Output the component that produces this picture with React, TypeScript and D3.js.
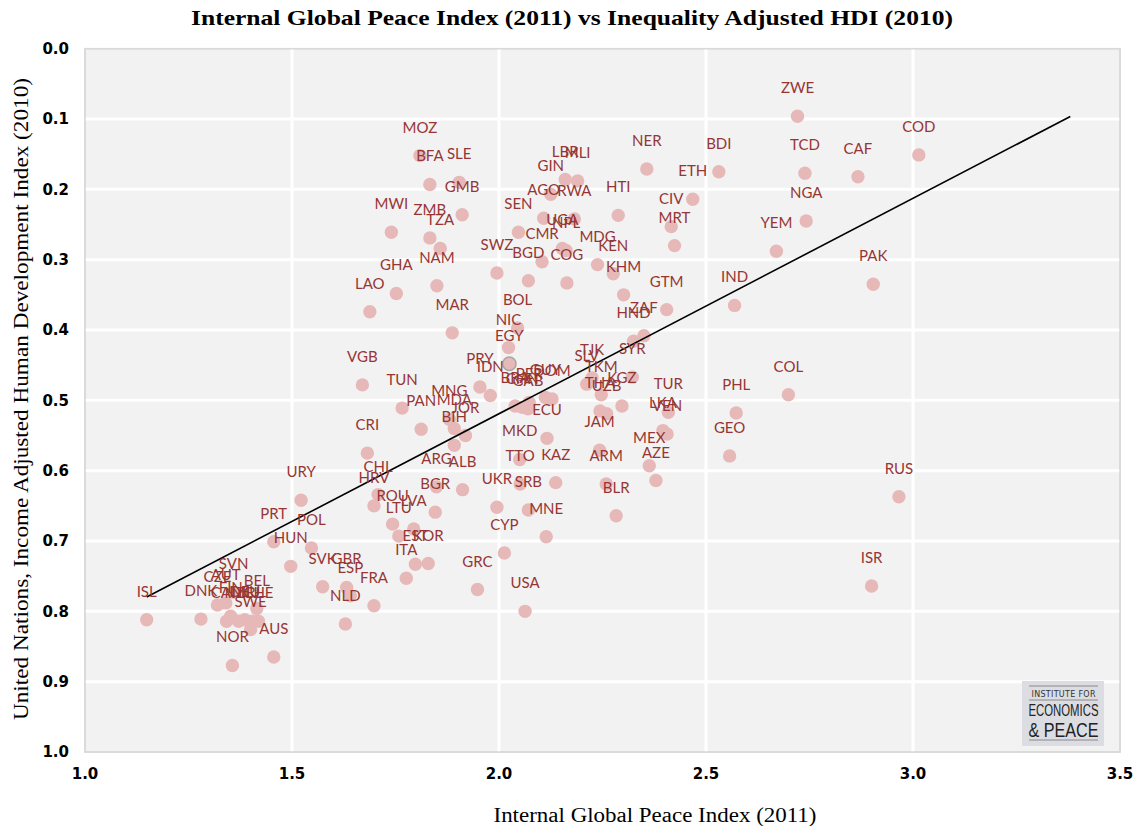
import React from "react";
import * as d3 from "d3";

const countries = ["ISL","DNK","CZE","AUT","SVN","FIN","CAN","NZL","DEU","IRL","CHE","BEL","SWE","NOR","AUS","HUN","PRT","POL","URY","SVK","GBR","ESP","NLD","FRA","ITA","EST","KOR","LTU","LVA","ROU","HRV","CHL","CRI","BGR","ARG","ALB","BIH","JOR","MDA","PAN","MNG","TUN","VGB","LAO","GHA","MWI","MOZ","BFA","SLE","GMB","ZMB","TZA","NAM","MAR","SWZ","SEN","AGO","GIN","LBR","MLI","RWA","UGA","NPL","CMR","BGD","COG","MDG","KEN","KHM","HTI","NER","BDI","ETH","CIV","MRT","GTM","ZAF","HND","ZWE","COD","TCD","CAF","NGA","YEM","IND","PAK","COL","PHL","GEO","RUS","ISR","TUR","LKA","VEN","MEX","AZE","ARM","BLR","JAM","THA","UZB","TKM","KGZ","SYR","TJK","SLV","KAZ","MKD","TTO","UKR","SRB","MNE","CYP","USA","GRC","ECU","PRY","IDN","EGY","NIC","BOL","PER","GUY","DOM","BRA","CHN","GAB"];

const gpiValues = [1.149,1.280,1.320,1.340,1.359,1.352,1.342,1.371,1.386,1.405,1.419,1.415,1.400,1.356,1.456,1.497,1.456,1.547,1.522,1.574,1.632,1.641,1.629,1.698,1.776,1.798,1.829,1.758,1.794,1.743,1.698,1.708,1.682,1.846,1.849,1.912,1.892,1.919,1.892,1.812,1.880,1.766,1.670,1.688,1.752,1.740,1.809,1.833,1.904,1.911,1.833,1.858,1.850,1.887,1.995,2.047,2.108,2.125,2.160,2.190,2.182,2.153,2.162,2.104,2.071,2.164,2.238,2.276,2.301,2.288,2.357,2.531,2.468,2.416,2.424,2.405,2.350,2.325,2.721,3.014,2.739,2.867,2.742,2.670,2.569,2.904,2.699,2.573,2.557,2.966,2.900,2.409,2.396,2.406,2.363,2.379,2.259,2.283,2.243,2.244,2.260,2.247,2.297,2.322,2.225,2.212,2.137,2.050,2.051,1.995,2.071,2.114,2.013,2.063,1.948,2.116,1.954,1.979,2.025,2.023,2.045,2.073,2.112,2.128,2.039,2.056,2.070];

const ihdiValues = [0.812,0.811,0.791,0.788,0.773,0.807,0.814,0.814,0.812,0.814,0.814,0.796,0.826,0.877,0.865,0.736,0.701,0.710,0.642,0.765,0.766,0.778,0.818,0.792,0.753,0.733,0.732,0.693,0.683,0.676,0.650,0.634,0.575,0.659,0.623,0.627,0.564,0.550,0.540,0.541,0.527,0.511,0.478,0.374,0.348,0.261,0.152,0.193,0.190,0.236,0.269,0.284,0.337,0.404,0.319,0.261,0.241,0.207,0.186,0.188,0.242,0.284,0.287,0.303,0.330,0.333,0.307,0.320,0.350,0.237,0.171,0.175,0.214,0.253,0.280,0.371,0.408,0.416,0.096,0.151,0.177,0.182,0.245,0.288,0.365,0.335,0.492,0.518,0.579,0.637,0.764,0.517,0.543,0.548,0.593,0.614,0.619,0.664,0.571,0.515,0.519,0.492,0.508,0.467,0.468,0.477,0.617,0.584,0.619,0.652,0.656,0.694,0.717,0.800,0.769,0.554,0.481,0.493,0.448,0.425,0.397,0.503,0.496,0.498,0.508,0.510,0.512];

const highlighted = ["EGY"];

const xTicks = [1.0, 1.5, 2.0, 2.5, 3.0, 3.5];
const yTicks = [0.0, 0.1, 0.2, 0.3, 0.4, 0.5, 0.6, 0.7, 0.8, 0.9, 1.0];

const trendX = [1.149, 3.380];
const trendY = [0.7796, 0.0964];

const titleText = "Internal Global Peace Index (2011) vs Inequality Adjusted HDI (2010)";
const xTitle = "Internal Global Peace Index (2011)";
const yTitle = "United Nations, Income Adjusted Human Development Index (2010)";

export default function App() {
  const W = 1139, H = 826;
  const left = 85, right = 1120, top = 48.7, bottom = 752;
  const x = d3.scaleLinear().domain([1, 3.5]).range([left, right]);
  const y = d3.scaleLinear().domain([0, 1]).range([top, bottom]);
  const data = countries.map((c, i) => ({ c, gx: gpiValues[i], hy: ihdiValues[i] }));
  const line = d3.line<number>().x((_, i) => x(trendX[i])).y((_, i) => y(trendY[i]));
  const serif = "'Liberation Serif', 'Times New Roman', serif";
  const tickFont = "'DejaVu Sans', Verdana, sans-serif";
  const labelFont = "Lato, 'Open Sans', sans-serif";

  return (
    <div style={{ position: "absolute", left: 0, top: 0 }}>
      <svg width={W} height={H} style={{ display: "block", background: "#fff" }}>
        <text x={572} y={25} textAnchor="middle" fontFamily={serif} fontWeight="bold" fontSize={21}
          textLength={762} lengthAdjust="spacingAndGlyphs" fill="#000">{titleText}</text>

        <rect x={left} y={top} width={right - left} height={bottom - top} fill="#f2f2f2" stroke="#d9d9d9" strokeWidth={1.5} />
        {xTicks.slice(1, -1).map((t) => (
          <line key={"gx" + t} x1={x(t)} x2={x(t)} y1={top} y2={bottom} stroke="#fff" strokeWidth={3} />
        ))}
        {yTicks.slice(1, -1).map((t) => (
          <line key={"gy" + t} x1={left} x2={right} y1={y(t)} y2={y(t)} stroke="#fff" strokeWidth={3} />
        ))}
        <rect x={left} y={top} width={right - left} height={bottom - top} fill="none" stroke="#d9d9d9" strokeWidth={1.5} />

        {yTicks.map((t) => (
          <text key={"ty" + t} x={69} y={y(t)} dy="0.36em" textAnchor="end" fontFamily={tickFont}
            fontWeight="bold" fontSize={15} fill="#000">{d3.format(".1f")(t)}</text>
        ))}
        {xTicks.map((t) => (
          <text key={"tx" + t} x={x(t)} y={779} textAnchor="middle" fontFamily={tickFont}
            fontWeight="bold" fontSize={15} fill="#000">{d3.format(".1f")(t)}</text>
        ))}

        <text x={655} y={822} textAnchor="middle" fontFamily={serif} fontSize={20}
          textLength={323} lengthAdjust="spacingAndGlyphs" fill="#000">{xTitle}</text>
        <text transform={`translate(28,399) rotate(-90)`} textAnchor="middle" fontFamily={serif} fontSize={20}
          textLength={642} lengthAdjust="spacingAndGlyphs" fill="#000">{yTitle}</text>

        {data.map((d) => (
          <circle key={"p" + d.c} cx={x(d.gx)} cy={y(d.hy)} r={6.7}
            fill="#e6b9b8"
            stroke={highlighted.includes(d.c) ? "#a6a6a6" : "none"}
            strokeWidth={highlighted.includes(d.c) ? 1.5 : 0} />
        ))}

        <path d={line([0, 1]) || ""} fill="none" stroke="#000" strokeWidth={1.6} />

        {data.map((d) => (
          <text key={"l" + d.c} x={x(d.gx)} y={y(d.hy) - 23} textAnchor="middle" fontFamily={labelFont}
            fontSize={15} fill="#963634">{d.c}</text>
        ))}

        <g>
          <rect x={1022} y={681} width={82} height={65} fill="#dcdde2" />
          <line x1={1029} x2={1098} y1={686} y2={686} stroke="#777" strokeWidth={0.8} />
          <text x={1063.5} y={697} textAnchor="middle" fontFamily="'DejaVu Sans', sans-serif" fontSize={8}
            textLength={64} lengthAdjust="spacing" fill="#333">INSTITUTE FOR</text>
          <line x1={1029} x2={1098} y1={700} y2={700} stroke="#777" strokeWidth={0.8} />
          <text x={1063.5} y={716} textAnchor="middle" fontFamily="'Liberation Sans Narrow', 'Liberation Sans', sans-serif"
            fontSize={16} textLength={70} lengthAdjust="spacingAndGlyphs" fill="#222">ECONOMICS</text>
          <text x={1063.5} y={737} textAnchor="middle" fontFamily="'Liberation Sans', sans-serif"
            fontSize={20} textLength={70} lengthAdjust="spacingAndGlyphs" fill="#222">&amp; PEACE</text>
          <line x1={1029} x2={1098} y1={740} y2={740} stroke="#777" strokeWidth={0.8} />
        </g>
      </svg>
    </div>
  );
}
